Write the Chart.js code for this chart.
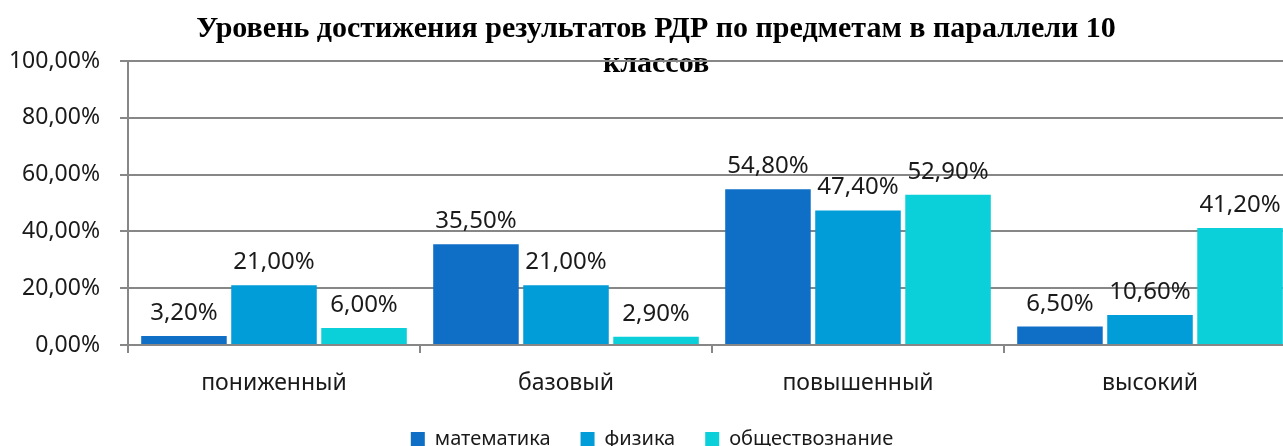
<!DOCTYPE html>
<html>
<head>
<meta charset="utf-8">
<script src="https://cdn.jsdelivr.net/npm/chart.js@4/dist/chart.umd.min.js"></script>
<style>
  html, body { margin: 0; padding: 0; background: #fff; overflow: hidden; }
  #clip { width: 1283px; height: 446px; overflow: hidden; position: relative; }
  #box { width: 1312px; height: 459px; position: absolute; left: 0; top: 0; }
</style>
</head>
<body>
<div id="clip"><div id="box"><canvas id="levelChart"></canvas></div></div>
<script>
const titleLines = ["Уровень достижения результатов РДР по предметам в параллели 10", "классов"];
const categories = ["пониженный", "базовый", "повышенный", "высокий"];
const seriesNames = ["математика", "физика", "обществознание"];
const mathValues = [3.2, 35.5, 54.8, 6.5];
const physicsValues = [21.0, 21.0, 47.4, 10.6];
const socialValues = [6.0, 2.9, 52.9, 41.2];
const yTicks = [0, 20, 40, 60, 80, 100];

const colors = ["#0F6FC6", "#009DD9", "#0BD0D9"];
const gridColor = "#878787";
const font = "'Noto Sans', 'DejaVu Sans', sans-serif";

function pct(v){
    return v.toFixed(2).replace(".", ",") + "%";
}

// title sits over the plot area like in the original, so draw it by hand
const titlePlugin = {
    id: "overTitle",
    beforeDraw(chart){
        const ctx = chart.ctx;
        ctx.save();
        ctx.font = "bold 30px 'Liberation Serif', 'Times New Roman', serif";
        ctx.fillStyle = "#000";
        ctx.textAlign = "center";
        ctx.textBaseline = "alphabetic";
        titleLines.forEach(function(line, i){
            ctx.fillText(line, chart.width / 2, 37 + i * 35);
        });
        ctx.restore();
    }
};

const valueLabels = {
    id: "valueLabels",
    afterDatasetsDraw(chart){
        const ctx = chart.ctx;
        ctx.save();
        ctx.font = "24px " + font;
        ctx.fillStyle = "#1a1a1a";
        ctx.textAlign = "center";
        ctx.textBaseline = "alphabetic";
        chart.data.datasets.forEach(function(ds, i){
            chart.getDatasetMeta(i).data.forEach(function(bar, j){
                ctx.fillText(pct(ds.data[j]), bar.x, bar.y - 16);
            });
        });
        ctx.restore();
    }
};

new Chart(document.getElementById("levelChart"), {
    type: "bar",
    data: {
        labels: categories,
        datasets: [
            { label: seriesNames[0], data: mathValues, backgroundColor: colors[0] },
            { label: seriesNames[1], data: physicsValues, backgroundColor: colors[1] },
            { label: seriesNames[2], data: socialValues, backgroundColor: colors[2] }
        ]
    },
    options: {
        responsive: true,
        maintainAspectRatio: false,
        animation: false,
        layout: { padding: { top: 61, left: 8, right: 16, bottom: 0 } },
        datasets: { bar: { categoryPercentage: 0.925, barPercentage: 0.95 } },
        scales: {
            x: {
                afterFit: function(axis){
                    axis.height = 54;
                },
                grid: { offset: true, drawOnChartArea: false, tickLength: 8, color: gridColor, lineWidth: 2 },
                border: { color: gridColor, width: 2 },
                ticks: { padding: 17, color: "#1a1a1a", font: { family: font, size: 23 } }
            },
            y: {
                min: 0,
                max: 100,
                afterBuildTicks: function(axis){
                    axis.ticks = yTicks.map(function(v){ return { value: v }; });
                },
                afterFit: function(axis){
                    axis.width = 120;
                },
                grid: { tickLength: 8, color: gridColor, lineWidth: 2 },
                border: { color: gridColor, width: 2 },
                ticks: {
                    padding: 20,
                    color: "#1a1a1a",
                    font: { family: font, size: 23 },
                    callback: function(v){ return pct(v); }
                }
            }
        },
        plugins: {
            legend: {
                position: "bottom",
                labels: {
                    boxWidth: 14,
                    boxHeight: 14,
                    padding: 30,
                    color: "#1a1a1a",
                    font: { family: font, size: 20 }
                }
            },
            tooltip: { enabled: false }
        }
    },
    plugins: [titlePlugin, valueLabels]
});
</script>
</body>
</html>
